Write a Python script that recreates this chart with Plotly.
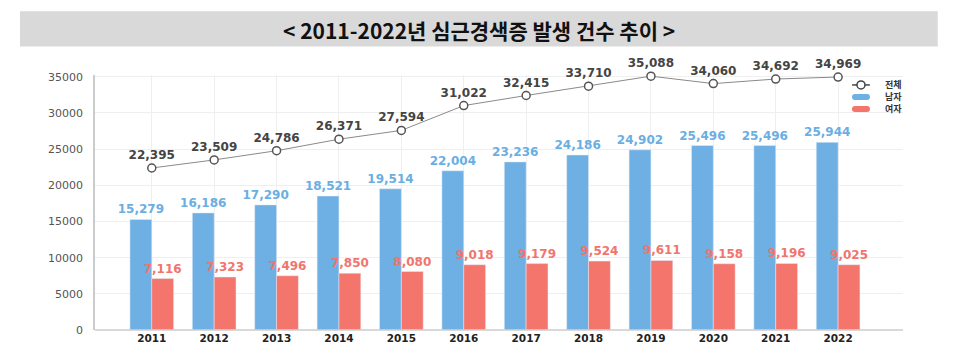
import plotly.graph_objects as go

years = ["2011", "2012", "2013", "2014", "2015", "2016", "2017", "2018", "2019", "2020", "2021", "2022"]
total = [22395, 23509, 24786, 26371, 27594, 31022, 32415, 33710, 35088, 34060, 34692, 34969]
male = [15279, 16186, 17290, 18521, 19514, 22004, 23236, 24186, 24902, 25496, 25496, 25944]
female = [7116, 7323, 7496, 7850, 8080, 9018, 9179, 9524, 9611, 9158, 9196, 9025]

title_text = "< 2011-2022년 심근경색증 발생 건수 추이 >"
legend_names = ["전체", "남자", "여자"]
BLUE = "#6EAFE4"
RED = "#F4756C"
FONT = "DejaVu Sans"

fig = go.Figure()
fig.add_trace(go.Bar(
    x=years, y=male, name=legend_names[1], marker_color=BLUE,
    texttemplate="%{y:,}", textposition="outside", constraintext="none",
    textfont=dict(family=FONT, size=12, color="#6AAEE2", weight="bold"),
    cliponaxis=False,
))
fig.add_trace(go.Bar(
    x=years, y=female, name=legend_names[2], marker_color=RED,
    texttemplate="%{y:,}", textposition="outside", constraintext="none",
    textfont=dict(family=FONT, size=12, color="#F0756D", weight="bold"),
    cliponaxis=False,
))
fig.add_trace(go.Scatter(
    x=years, y=total, name=legend_names[0], mode="lines+markers+text",
    line=dict(color="#8A8A8A", width=1),
    marker=dict(symbol="circle", size=8, color="white", line=dict(color="#555555", width=1.5)),
    texttemplate="%{y:,}", textposition="top center",
    textfont=dict(family=FONT, size=12, color="#444444", weight="bold"),
    cliponaxis=False,
))

# compact legend drawn as shapes + annotations (paper coordinates)
LX0, LX1, LXC, LTX = 0.937, 0.959, 0.948, 0.977
LY = [0.961, 0.914, 0.867]
capsule = "M -6,-3 L 6,-3 Q 9,-3 9,0 Q 9,3 6,3 L -6,3 Q -9,3 -9,0 Q -9,-3 -6,-3 Z"
shapes = [
    dict(type="rect", xref="paper", yref="paper",
         x0=-0.0928, x1=1.043, y0=1.112, y1=1.25,
         fillcolor="#D9D9D9", line=dict(width=0), layer="below"),
    dict(type="line", xref="paper", yref="paper",
         x0=0, x1=1, y0=0, y1=0, line=dict(color="#CCCCCC", width=1.5)),
    dict(type="line", xref="paper", yref="paper", x0=LX0, x1=LX1, y0=LY[0], y1=LY[0],
         line=dict(color="#444444", width=1.5)),
    dict(type="circle", xref="paper", yref="paper", xsizemode="pixel", ysizemode="pixel",
         xanchor=LXC, yanchor=LY[0], x0=-4, x1=4, y0=-4, y1=4,
         fillcolor="white", line=dict(color="#444444", width=1.5)),
    dict(type="path", xref="paper", yref="paper", xsizemode="pixel", ysizemode="pixel",
         xanchor=LXC, yanchor=LY[1], path=capsule, fillcolor=BLUE, line=dict(width=0)),
    dict(type="path", xref="paper", yref="paper", xsizemode="pixel", ysizemode="pixel",
         xanchor=LXC, yanchor=LY[2], path=capsule, fillcolor=RED, line=dict(width=0)),
]
annotations = [
    dict(text=title_text, xref="paper", yref="paper", x=0.475, y=1.175,
         showarrow=False, xanchor="center", yanchor="middle",
         font=dict(family="Noto Sans CJK KR", size=21, color="#111111", weight="bold")),
]
for name, ly in zip(legend_names, LY):
    annotations.append(dict(text=name, xref="paper", yref="paper", x=LTX, y=ly,
                            showarrow=False, xanchor="left", yanchor="middle", borderpad=0,
                            font=dict(family="Noto Sans CJK KR", size=9, color="#333333", weight="bold")))

# page body has an 8px margin, so the figure starts at (8, 8)
fig.update_layout(
    width=957, height=361,
    margin=dict(l=87, r=62, t=67, b=39),
    paper_bgcolor="white", plot_bgcolor="white",
    barmode="group", bargap=0.3, bargroupgap=0,
    showlegend=False,
    xaxis=dict(type="category", range=[-0.91, 12.04],
               showgrid=True, gridcolor="#EFEFEF", gridwidth=1,
               showline=False, ticks="",
               tickfont=dict(family=FONT, size=10.5, color="#222222", weight="bold")),
    yaxis=dict(range=[0, 35250], dtick=5000, tickformat="d",
               showgrid=True, gridcolor="#EFEFEF", gridwidth=1,
               zeroline=False, showline=True, linecolor="#CCCCCC", linewidth=1.5,
               ticks="", ticklabelstandoff=8,
               tickfont=dict(family=FONT, size=11, color="#555555")),
    shapes=shapes,
    annotations=annotations,
)

fig.write_html("out.html")
